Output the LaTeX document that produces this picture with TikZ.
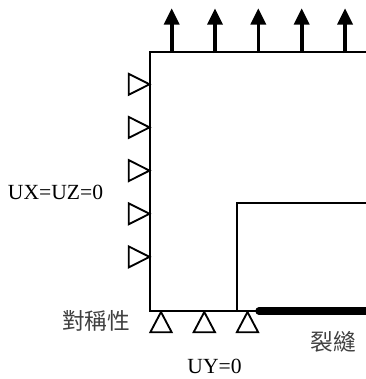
\documentclass[tikz,border=0pt]{standalone}
\usepackage{fontspec}
\setmainfont{Liberation Serif}
\newfontfamily\cjk{Noto Sans CJK TC}
\tikzset{
  edge line/.style={line width=1.6pt,line cap=butt,line join=miter},
  support/.style={line width=1.4pt,fill=white,line join=miter},
  pull/.style={line width=2.7pt},
  pullhead/.style={fill=black,draw=none},
  crack/.style={line width=5.6pt,line cap=round},
  lab/.style={inner sep=0pt,font=\fontsize{16.2}{18}\selectfont,text=black},
  cjklab/.style={inner sep=0pt,font=\cjk\fontsize{17}{18}\selectfont,text=black!75}
}
\begin{document}
\begin{tikzpicture}[x=0.75pt,y=-0.75pt]
\useasboundingbox (0,0) rectangle (366,379);
% body outline
\draw[edge line] (366,52) -- (150,52) -- (150,311) -- (257,311);
\draw[edge line] (366,203) -- (237,203) -- (237,311);
\draw[crack] (259,311) -- (370,311);
% tension arrows
\foreach \x in {171.7,215,258.3,301.7,345}{
  \draw[pull] (\x,53) -- (\x,22);
  \fill[pullhead] (\x,8.5) -- (\x+8,24.5) -- (\x-8,24.5) -- cycle;
}
% side supports
\foreach \y in {84.3,127.4,170.6,213.8,256.9}{
  \draw[support] (149.5,\y) -- (128.7,\y-10.5) -- (128.7,\y+10.5) -- cycle;
}
% bottom supports
\foreach \x in {161,204.3,247.5}{
  \draw[support] (\x,312) -- (\x+10.7,332.3) -- (\x-10.7,332.3) -- cycle;
}
\node[lab,anchor=center] (ux) at (55.5,192) {UX=UZ=0};
\node[lab,anchor=center] (uy) at (214.5,366) {UY=0};
\node[cjklab,anchor=center] (sym) at (96,321) {對稱性};
\node[cjklab,anchor=center] (crk) at (333.5,342) {裂縫};
\end{tikzpicture}
\end{document}
